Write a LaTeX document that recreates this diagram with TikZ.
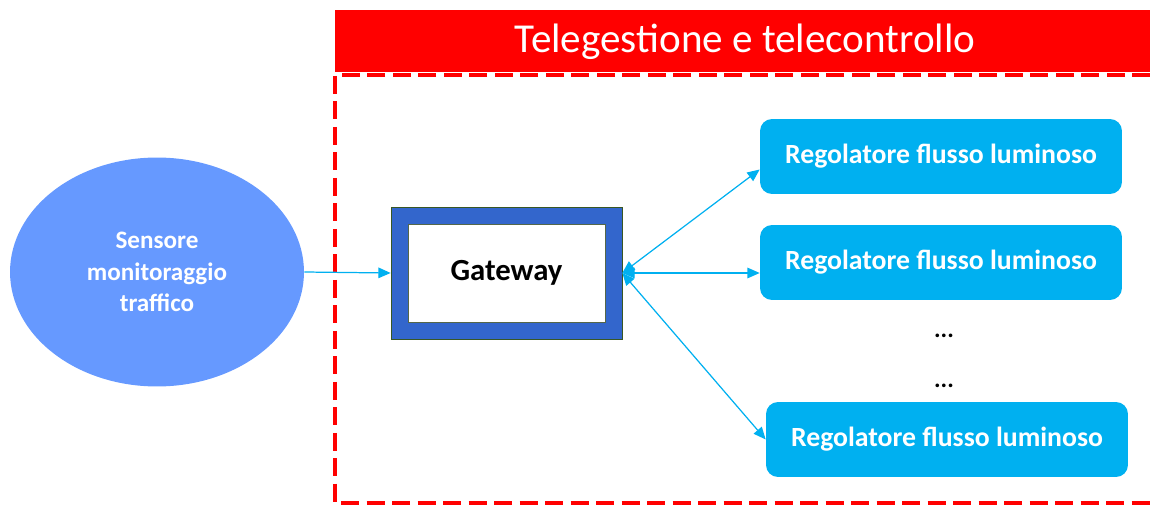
\documentclass[tikz,border=0pt]{standalone}
\usepackage{fontspec}
\setmainfont{Carlito}
\usepackage{xcolor}
\definecolor{colorHeader}{HTML}{FF0000}
\definecolor{colorSensor}{HTML}{6699FF}
\definecolor{colorGateway}{HTML}{3366CC}
\definecolor{colorFrame}{HTML}{385723}
\definecolor{colorReg}{HTML}{00B0F0}
\usetikzlibrary{arrows.meta, positioning, shapes.geometric}
\tikzset{
  sensor/.style={ellipse, fill=colorSensor, minimum width=5.88cm, minimum height=4.58cm,
    text=white, font=\bfseries\fontsize{14.3}{18}\selectfont, align=center},
  gwouter/.style={rectangle, fill=colorGateway, draw=colorFrame, line width=0.4pt,
    minimum width=4.62cm, minimum height=2.64cm},
  gwinner/.style={rectangle, fill=white, draw=colorFrame!60!gray, line width=0.4pt,
    minimum width=3.94cm, minimum height=1.96cm, font=\bfseries\fontsize{17.5}{20}\selectfont},
  regbox/.style={rectangle, rounded corners=0.24cm, fill=colorReg, minimum width=7.24cm,
    minimum height=1.5cm, text=white, font=\bfseries\fontsize{15.8}{19}\selectfont},
  link/.style={draw=colorReg, line width=0.7pt, -{Triangle[length=7pt, width=6pt]}},
  dualink/.style={link, {Triangle[length=7pt, width=6pt]}-{Triangle[length=7pt, width=6pt]}},
  zone/.style={draw=colorHeader, line width=2pt, dash pattern=on 0.36cm off 0.15cm}
}

\begin{document}
\begin{tikzpicture}[x=0.02cm, y=-0.02cm]
\useasboundingbox (0,0) rectangle (1150,507);
% area telegestione
\fill[colorHeader] (335,10) rectangle (1150,72);
\node[text=white, font=\fontsize{23.4}{28}\selectfont] (title) at (745,42) {Telegestione e telecontrollo};
\draw[zone] (1150,75) -- (335,75) -- (335,503) -- (1150,503);
% nodi
\node[sensor] (sens) at (157,272) {Sensore\\monitoraggio\\traffico};
\node[gwouter] (gwbox) at (506.5,273) {};
\node[gwinner] (gw) at (gwbox.center) {Gateway};
\node[regbox] (reg1) at (941,156.5) {Regolatore flusso luminoso};
\node[regbox] (reg2) at (941,262.5) {Regolatore flusso luminoso};
\node[regbox] (reg3) at (947,439.5) {Regolatore flusso luminoso};
\node[font=\bfseries\fontsize{14}{16}\selectfont] (dots1) at (944,336) {...};
\node[font=\bfseries\fontsize{14}{16}\selectfont, below=1.0cm of dots1.center, anchor=center] (dots2) {...};
% collegamenti
\draw[link] (sens.east) -- (gwbox.west);
\draw[dualink] (gwbox.east) -- ([yshift=-0.26cm]reg1.west);
\draw[dualink] (gwbox.east) -- (reg1.west |- gwbox.east);
\draw[dualink] (gwbox.east) -- (reg3.west);
\end{tikzpicture}
\end{document}
